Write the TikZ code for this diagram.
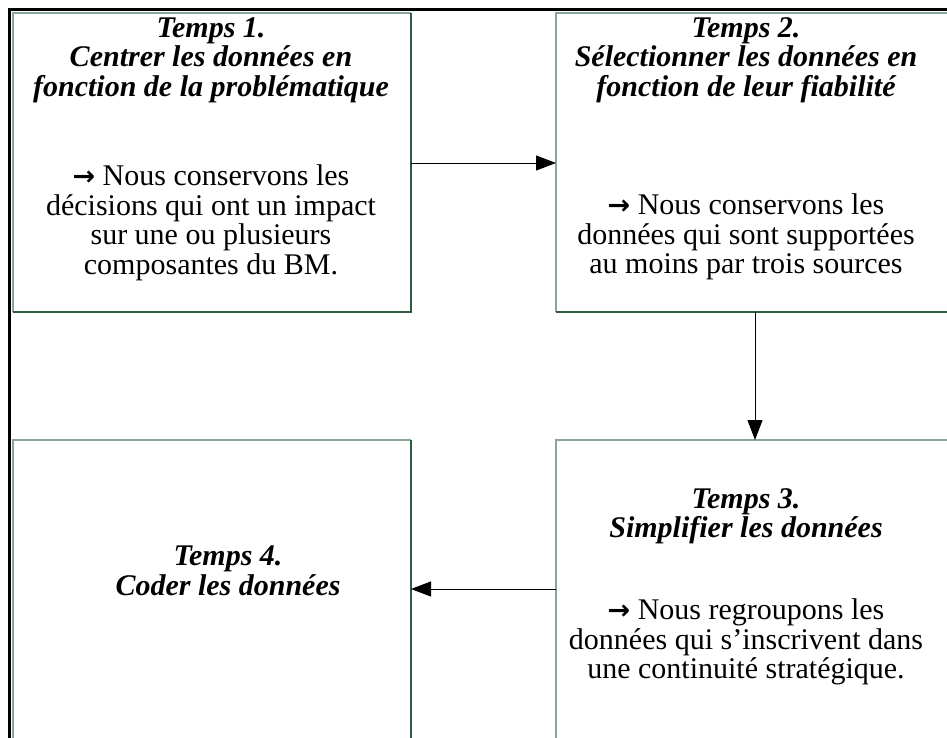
\documentclass[tikz,border=0pt]{standalone}
\usepackage{fontspec}
\setmainfont{Liberation Serif}
\newfontfamily\arrowfont{DejaVu Sans}
\usetikzlibrary{arrows.meta}
\definecolor{edgelight}{HTML}{8AA596}
\definecolor{edgedark}{HTML}{2F5A3E}
\tikzset{
  px/.style={x=1pt,y=-1pt},
  box/.style={draw=none,minimum width=398pt,minimum height=299pt,inner sep=0pt,outer sep=0pt,anchor=north west},
  boxtext/.style={align=center,inner sep=0pt,anchor=north,font=\fontsize{30}{29.5}\selectfont},
  titletext/.style={boxtext,font=\fontsize{30}{29.5}\selectfont\bfseries\itshape},
  conn/.style={draw=black,line width=1pt,-{Triangle[length=20pt,width=15pt]}},
}
\newcommand{\arr}{{\arrowfont\bfseries\fontsize{27}{27}\selectfont →}}
\newcommand{\boxedge}[1]{%
  \draw[edgelight,line width=2pt] (#1.south west) -- (#1.north west) -- (#1.north east);
  \draw[edgedark,line width=2pt] (#1.north east) -- (#1.south east) -- (#1.south west);
}
\begin{document}
\begin{tikzpicture}[px]
\useasboundingbox (0,0) rectangle (947,737);
\clip (0,0) rectangle (947,737);
\fill[white] (0,0) rectangle (947,737);
\draw[black,line width=3.5pt] (9.5,760) -- (9.5,9.5) -- (970,9.5);
\node[box] (b1) at (13,13) {};
\node[box] (b2) at (556,13) {};
\node[box] (b3) at (556,440) {};
\node[box] (b4) at (13,440) {};
\boxedge{b1}
\boxedge{b2}
\boxedge{b3}
\boxedge{b4}
\node[titletext] (t1) at (211,17) {Temps 1.\\ Centrer les données en\\ fonction de la problématique};
\node[boxtext] (t1b) at (211,164.5) {\arr\ Nous conservons les\\ décisions qui ont un impact\\ sur une ou plusieurs\\ composantes du BM.};
\node[titletext] (t2) at (746,17) {Temps 2.\\ Sélectionner les données en\\ fonction de leur fiabilité};
\node[boxtext] (t2b) at (746,193.5) {\arr\ Nous conservons les\\ données qui sont supportées\\ au moins par trois sources};
\node[titletext] (t3) at (746,488) {Temps 3.\\ Simplifier les données};
\node[boxtext] (t3b) at (746,598.5) {\arr\ Nous regroupons les\\ données qui s’inscrivent dans\\ une continuité stratégique.};
\node[titletext] (t4) at (228,546) {Temps 4.\\ Coder les données};
\draw[conn] (b1.east |- 0,163) -- (b2.west |- 0,163);
\draw[conn] (b2.south -| 755,0) -- (b3.north -| 755,0);
\draw[conn] (b3.west |- 0,589) -- (b4.east |- 0,589);
\end{tikzpicture}
\end{document}
